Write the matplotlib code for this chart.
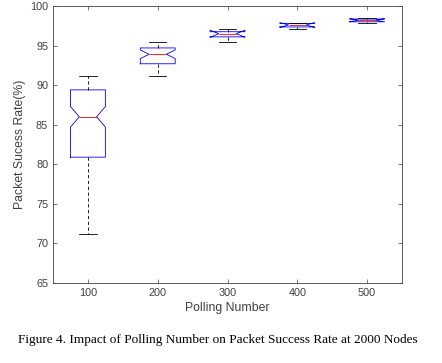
import matplotlib
matplotlib.use("Agg")
import matplotlib.pyplot as plt

polling = ["100", "200", "300", "400", "500"]
whislo = [71.2, 91.2, 95.45, 97.05, 97.9]
q1 = [80.9, 92.7, 96.1, 97.35, 98.0]
med = [86.0, 93.9, 96.5, 97.6, 98.2]
q3 = [89.4, 94.7, 96.75, 97.8, 98.35]
whishi = [91.15, 95.4, 97.05, 97.9, 98.5]
cilo = [84.7, 93.35, 96.05, 97.3, 98.0]
cihi = [87.3, 94.45, 96.95, 97.9, 98.4]

stats = []
for i, lab in enumerate(polling):
    stats.append(dict(label=lab, whislo=whislo[i], q1=q1[i], med=med[i], q3=q3[i],
                      whishi=whishi[i], cilo=cilo[i], cihi=cihi[i], fliers=[]))

plt.rcParams['font.family'] = ['Liberation Sans', 'DejaVu Sans']
fig = plt.figure(figsize=(4.42, 3.63), dpi=100)
ax = fig.add_axes([0.12, 0.2204, 0.7895, 0.7631])

ax.bxp(stats, positions=range(1, 6), widths=0.5, shownotches=True, showfliers=False,
       boxprops=dict(color='#0000ff', linewidth=0.6),
       medianprops=dict(color='#ff0000', linewidth=0.6),
       whiskerprops=dict(color='black', linewidth=0.6, linestyle=(0, (4, 3))),
       capprops=dict(color='black', linewidth=0.6))

ax.set_xlim(0.5, 5.5)
ax.set_ylim(65, 100)
ax.set_yticks(range(65, 101, 5))
ax.set_xticks(range(1, 6))
ax.set_xticklabels(polling)
tc = '#404040'
for s in ax.spines.values():
    s.set_color(tc)
    s.set_linewidth(0.6)
ax.tick_params(direction='in', length=3, width=0.5, colors=tc, labelsize=7.8,
               top=True, right=True, labelcolor=tc)
ax.set_xlabel('Polling Number', fontsize=8.8, color=tc, labelpad=3)
ax.set_ylabel('Packet Sucess Rate(%)', fontsize=8.8, color=tc, labelpad=3)

fig.text(0.493, 0.063, 'Figure 4. Impact of Polling Number on Packet Success Rate at 2000 Nodes',
         ha='center', va='center', fontsize=9.5, family=['Liberation Serif'])

fig.savefig('out.png', dpi=100)
